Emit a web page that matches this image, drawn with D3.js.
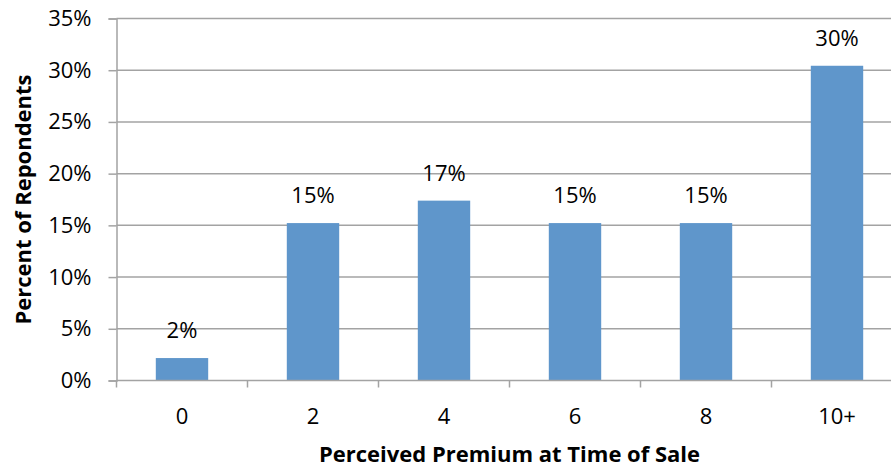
<!DOCTYPE html>
<html>
<head>
<meta charset="utf-8">
<script src="https://cdn.jsdelivr.net/npm/d3@7"></script>
<style>
  html, body { margin: 0; padding: 0; background: #fff; }
  svg { display: block; }
  text { font-family: "Open Sans", Lato, sans-serif; fill: #000; }
</style>
</head>
<body>
<svg id="chart" width="891" height="468"></svg>
<script>
// Share of respondents by perceived premium at time of sale
const categories = ["0", "2", "4", "6", "8", "10+"];
const shares = [0.0217, 0.1522, 0.1739, 0.1522, 0.1522, 0.3043];
const yTicks = [0, 0.05, 0.10, 0.15, 0.20, 0.25, 0.30, 0.35];
const xTitle = "Perceived Premium at Time of Sale";
const yTitle = "Percent of Repondents";

const svg = d3.select("#chart");
const plotLeft = 116.5, plotRight = 902.5, plotTop = 18.5, plotBottom = 380.5;
const fontFamily = "'Open Sans', Lato, sans-serif";
const fontSize = 22;

const x = d3.scaleBand().domain(categories).range([plotLeft, plotRight]).paddingInner(0.6).paddingOuter(0.3);
const xEdges = d3.scaleLinear().domain([0, categories.length]).range([plotLeft, plotRight]);
const y = d3.scaleLinear().domain([0, 0.35]).range([plotBottom, plotTop]);
const pct = d3.format(".0%");

// horizontal gridlines
svg.append("g")
  .selectAll("line")
  .data(yTicks.slice(1))
  .join("line")
  .attr("x1", plotLeft).attr("x2", plotRight)
  .attr("y1", d => y(d)).attr("y2", d => y(d))
  .attr("stroke", "#a3a3a3").attr("stroke-width", 1.5);

// bars
svg.append("g")
  .selectAll("rect")
  .data(shares)
  .join("rect")
  .attr("x", (d, i) => x(categories[i]))
  .attr("width", x.bandwidth())
  .attr("y", d => y(d))
  .attr("height", d => y(0) - y(d))
  .attr("fill", "#5f96cb");

// value labels
svg.append("g")
  .selectAll("text")
  .data(shares)
  .join("text")
  .attr("x", (d, i) => x(categories[i]) + x.bandwidth() / 2)
  .attr("y", d => y(d) - 20)
  .attr("text-anchor", "middle")
  .attr("font-size", fontSize)
  .text(d => pct(d));

// y axis
const yAxis = svg.append("g")
  .attr("transform", `translate(${plotLeft},0)`)
  .call(d3.axisLeft(y).tickValues(yTicks).tickFormat(pct).tickSize(8).tickPadding(17));
yAxis.select(".domain").attr("stroke", "#a3a3a3").attr("stroke-width", 1.5);
yAxis.selectAll(".tick line").attr("stroke", "#a3a3a3").attr("stroke-width", 1.5);
yAxis.selectAll(".tick text").attr("font-size", fontSize).attr("font-family", fontFamily).attr("fill", "#000");

// x axis baseline and category separators
const xAxis = svg.append("g");
xAxis.append("line")
  .attr("x1", plotLeft).attr("x2", plotRight)
  .attr("y1", plotBottom).attr("y2", plotBottom)
  .attr("stroke", "#a3a3a3").attr("stroke-width", 1.5);
xAxis.selectAll("line.sep")
  .data(d3.range(categories.length + 1))
  .join("line")
  .attr("class", "sep")
  .attr("x1", d => xEdges(d)).attr("x2", d => xEdges(d))
  .attr("y1", plotBottom).attr("y2", plotBottom + 7)
  .attr("stroke", "#a3a3a3").attr("stroke-width", 1.5);
xAxis.selectAll("text")
  .data(categories)
  .join("text")
  .attr("x", d => x(d) + x.bandwidth() / 2)
  .attr("y", 424)
  .attr("text-anchor", "middle")
  .attr("font-size", fontSize)
  .text(d => d);

// axis titles
svg.append("text")
  .attr("x", (plotLeft + plotRight) / 2)
  .attr("y", 462)
  .attr("text-anchor", "middle")
  .attr("font-size", fontSize)
  .attr("font-weight", "bold")
  .text(xTitle);

svg.append("text")
  .attr("transform", `translate(31,${(plotTop + plotBottom) / 2}) rotate(-90)`)
  .attr("text-anchor", "middle")
  .attr("font-size", fontSize)
  .attr("font-weight", "bold")
  .text(yTitle);
</script>
</body>
</html>
